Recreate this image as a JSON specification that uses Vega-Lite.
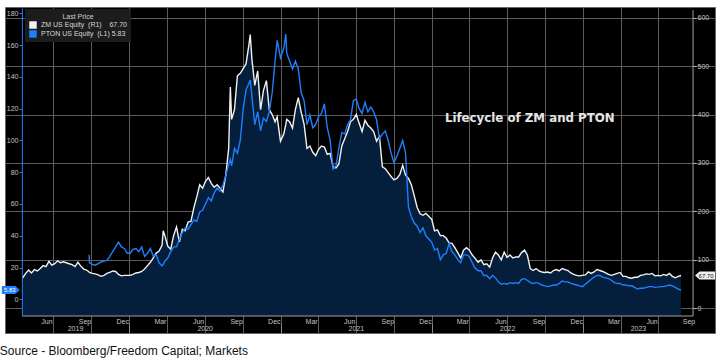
{
  "$schema": "https://vega.github.io/schema/vega-lite/v6.json",
  "width": 710,
  "height": 326,
  "autosize": {"type": "none"},
  "padding": {"left": 5, "top": 7, "right": 5, "bottom": 26},
  "background": "#ffffff",
  "title": {"text": "Source - Bloomberg/Freedom Capital; Markets", "orient": "bottom", "anchor": "start", "font": "Liberation Sans", "fontSize": 12, "fontWeight": "normal", "color": "#111111", "offset": 12, "dx": -2},
  "config": {
    "view": {"fill": "#000000", "stroke": "#666666", "strokeWidth": 1},
    "axis": {"labelFont": "Liberation Sans", "labelFontSize": 7, "labelColor": "#c4c4c4", "gridOpacity": 1}
  },
  "data": {"values": [
    {"date": "2019-04-18", "zm": 62},
    {"date": "2019-04-26", "zm": 72},
    {"date": "2019-05-03", "zm": 79},
    {"date": "2019-05-10", "zm": 73},
    {"date": "2019-05-17", "zm": 80},
    {"date": "2019-05-24", "zm": 77},
    {"date": "2019-05-31", "zm": 82},
    {"date": "2019-06-07", "zm": 88},
    {"date": "2019-06-14", "zm": 86},
    {"date": "2019-06-21", "zm": 97},
    {"date": "2019-06-28", "zm": 89},
    {"date": "2019-07-05", "zm": 92},
    {"date": "2019-07-12", "zm": 98},
    {"date": "2019-07-19", "zm": 94},
    {"date": "2019-07-26", "zm": 96},
    {"date": "2019-08-02", "zm": 94},
    {"date": "2019-08-09", "zm": 92},
    {"date": "2019-08-16", "zm": 90},
    {"date": "2019-08-23", "zm": 86},
    {"date": "2019-08-30", "zm": 95},
    {"date": "2019-09-06", "zm": 87},
    {"date": "2019-09-13", "zm": 81},
    {"date": "2019-09-20", "zm": 79},
    {"date": "2019-09-26", "zm": 75, "pton": 28},
    {"date": "2019-09-27", "zm": 74, "pton": 23},
    {"date": "2019-10-04", "zm": 72, "pton": 22},
    {"date": "2019-10-11", "zm": 71, "pton": 21.5},
    {"date": "2019-10-18", "zm": 69, "pton": 22.5},
    {"date": "2019-10-25", "zm": 66, "pton": 23.5},
    {"date": "2019-11-01", "zm": 68, "pton": 24},
    {"date": "2019-11-08", "zm": 72, "pton": 24.5},
    {"date": "2019-11-15", "zm": 74, "pton": 27},
    {"date": "2019-11-22", "zm": 77, "pton": 30},
    {"date": "2019-11-29", "zm": 76, "pton": 33},
    {"date": "2019-12-06", "zm": 70, "pton": 36},
    {"date": "2019-12-13", "zm": 67, "pton": 33},
    {"date": "2019-12-20", "zm": 68, "pton": 32},
    {"date": "2019-12-27", "zm": 68, "pton": 29},
    {"date": "2020-01-03", "zm": 68, "pton": 29},
    {"date": "2020-01-10", "zm": 70, "pton": 31.5},
    {"date": "2020-01-17", "zm": 73, "pton": 32},
    {"date": "2020-01-24", "zm": 74, "pton": 30},
    {"date": "2020-01-31", "zm": 76, "pton": 33},
    {"date": "2020-02-07", "zm": 81, "pton": 27},
    {"date": "2020-02-14", "zm": 88, "pton": 29},
    {"date": "2020-02-21", "zm": 95, "pton": 32},
    {"date": "2020-02-28", "zm": 104, "pton": 27},
    {"date": "2020-03-06", "zm": 114, "pton": 28},
    {"date": "2020-03-13", "zm": 118, "pton": 23},
    {"date": "2020-03-20", "zm": 130, "pton": 21},
    {"date": "2020-03-23", "zm": 160, "pton": 22},
    {"date": "2020-03-27", "zm": 150, "pton": 24},
    {"date": "2020-04-03", "zm": 128, "pton": 26},
    {"date": "2020-04-10", "zm": 122, "pton": 30},
    {"date": "2020-04-17", "zm": 150, "pton": 33},
    {"date": "2020-04-24", "zm": 168, "pton": 33},
    {"date": "2020-05-01", "zm": 137, "pton": 38},
    {"date": "2020-05-08", "zm": 163, "pton": 42},
    {"date": "2020-05-15", "zm": 160, "pton": 45},
    {"date": "2020-05-22", "zm": 178, "pton": 44},
    {"date": "2020-05-29", "zm": 180, "pton": 47},
    {"date": "2020-06-05", "zm": 208, "pton": 50},
    {"date": "2020-06-12", "zm": 230, "pton": 49},
    {"date": "2020-06-19", "zm": 255, "pton": 55},
    {"date": "2020-06-26", "zm": 248, "pton": 56},
    {"date": "2020-07-03", "zm": 262, "pton": 60},
    {"date": "2020-07-10", "zm": 270, "pton": 64},
    {"date": "2020-07-17", "zm": 258, "pton": 62},
    {"date": "2020-07-24", "zm": 250, "pton": 67},
    {"date": "2020-07-31", "zm": 255, "pton": 70},
    {"date": "2020-08-07", "zm": 248, "pton": 68},
    {"date": "2020-08-14", "zm": 240, "pton": 72},
    {"date": "2020-08-21", "zm": 275, "pton": 78},
    {"date": "2020-08-28", "zm": 330, "pton": 85},
    {"date": "2020-09-01", "zm": 457, "pton": 88},
    {"date": "2020-09-04", "zm": 390, "pton": 84},
    {"date": "2020-09-11", "zm": 410, "pton": 95},
    {"date": "2020-09-18", "zm": 480, "pton": 92},
    {"date": "2020-09-25", "zm": 485, "pton": 100},
    {"date": "2020-10-02", "zm": 495, "pton": 120},
    {"date": "2020-10-09", "zm": 505, "pton": 132},
    {"date": "2020-10-16", "zm": 545, "pton": 136},
    {"date": "2020-10-19", "zm": 565, "pton": 138},
    {"date": "2020-10-23", "zm": 515, "pton": 128},
    {"date": "2020-10-30", "zm": 460, "pton": 110},
    {"date": "2020-11-06", "zm": 490, "pton": 118},
    {"date": "2020-11-13", "zm": 410, "pton": 106},
    {"date": "2020-11-20", "zm": 450, "pton": 114},
    {"date": "2020-11-27", "zm": 470, "pton": 112},
    {"date": "2020-12-04", "zm": 410, "pton": 118},
    {"date": "2020-12-11", "zm": 400, "pton": 130},
    {"date": "2020-12-18", "zm": 385, "pton": 150},
    {"date": "2020-12-23", "zm": 395, "pton": 163},
    {"date": "2020-12-31", "zm": 345, "pton": 152},
    {"date": "2021-01-08", "zm": 360, "pton": 158},
    {"date": "2021-01-13", "zm": 380, "pton": 167},
    {"date": "2021-01-15", "zm": 390, "pton": 155},
    {"date": "2021-01-22", "zm": 385, "pton": 150},
    {"date": "2021-01-29", "zm": 372, "pton": 145},
    {"date": "2021-02-05", "zm": 410, "pton": 150},
    {"date": "2021-02-12", "zm": 435, "pton": 145},
    {"date": "2021-02-19", "zm": 405, "pton": 130},
    {"date": "2021-02-26", "zm": 380, "pton": 125},
    {"date": "2021-03-05", "zm": 330, "pton": 110},
    {"date": "2021-03-12", "zm": 335, "pton": 116},
    {"date": "2021-03-19", "zm": 322, "pton": 108},
    {"date": "2021-03-26", "zm": 315, "pton": 110},
    {"date": "2021-04-02", "zm": 328, "pton": 115},
    {"date": "2021-04-09", "zm": 335, "pton": 117},
    {"date": "2021-04-16", "zm": 333, "pton": 123},
    {"date": "2021-04-23", "zm": 318, "pton": 108},
    {"date": "2021-04-30", "zm": 320, "pton": 100},
    {"date": "2021-05-07", "zm": 292, "pton": 82},
    {"date": "2021-05-14", "zm": 290, "pton": 84},
    {"date": "2021-05-21", "zm": 298, "pton": 95},
    {"date": "2021-05-28", "zm": 335, "pton": 105},
    {"date": "2021-06-04", "zm": 350, "pton": 104},
    {"date": "2021-06-11", "zm": 365, "pton": 110},
    {"date": "2021-06-18", "zm": 385, "pton": 113},
    {"date": "2021-06-25", "zm": 390, "pton": 125},
    {"date": "2021-07-02", "zm": 400, "pton": 126},
    {"date": "2021-07-09", "zm": 382, "pton": 120},
    {"date": "2021-07-16", "zm": 365, "pton": 117},
    {"date": "2021-07-23", "zm": 388, "pton": 124},
    {"date": "2021-07-30", "zm": 378, "pton": 118},
    {"date": "2021-08-06", "zm": 372, "pton": 121},
    {"date": "2021-08-13", "zm": 365, "pton": 118},
    {"date": "2021-08-20", "zm": 345, "pton": 113},
    {"date": "2021-08-27", "zm": 355, "pton": 101},
    {"date": "2021-09-03", "zm": 292, "pton": 104},
    {"date": "2021-09-10", "zm": 288, "pton": 106},
    {"date": "2021-09-17", "zm": 280, "pton": 100},
    {"date": "2021-09-24", "zm": 272, "pton": 92},
    {"date": "2021-10-01", "zm": 265, "pton": 86},
    {"date": "2021-10-08", "zm": 268, "pton": 90},
    {"date": "2021-10-15", "zm": 276, "pton": 95},
    {"date": "2021-10-22", "zm": 295, "pton": 100},
    {"date": "2021-10-29", "zm": 275, "pton": 92},
    {"date": "2021-11-05", "zm": 268, "pton": 58},
    {"date": "2021-11-12", "zm": 255, "pton": 52},
    {"date": "2021-11-19", "zm": 232, "pton": 48},
    {"date": "2021-11-26", "zm": 208, "pton": 46},
    {"date": "2021-12-03", "zm": 195, "pton": 42},
    {"date": "2021-12-10", "zm": 192, "pton": 45},
    {"date": "2021-12-17", "zm": 196, "pton": 40},
    {"date": "2021-12-24", "zm": 190, "pton": 38},
    {"date": "2021-12-31", "zm": 184, "pton": 36},
    {"date": "2022-01-07", "zm": 160, "pton": 31},
    {"date": "2022-01-14", "zm": 162, "pton": 32},
    {"date": "2022-01-21", "zm": 150, "pton": 25},
    {"date": "2022-01-28", "zm": 150, "pton": 28},
    {"date": "2022-02-04", "zm": 145, "pton": 29},
    {"date": "2022-02-11", "zm": 135, "pton": 35},
    {"date": "2022-02-18", "zm": 134, "pton": 30},
    {"date": "2022-02-25", "zm": 125, "pton": 28},
    {"date": "2022-03-04", "zm": 115, "pton": 25},
    {"date": "2022-03-11", "zm": 104, "pton": 23},
    {"date": "2022-03-18", "zm": 120, "pton": 28},
    {"date": "2022-03-25", "zm": 125, "pton": 28},
    {"date": "2022-04-01", "zm": 120, "pton": 27},
    {"date": "2022-04-08", "zm": 110, "pton": 23},
    {"date": "2022-04-14", "zm": 104, "pton": 20},
    {"date": "2022-04-22", "zm": 95, "pton": 18},
    {"date": "2022-04-29", "zm": 100, "pton": 18},
    {"date": "2022-05-06", "zm": 90, "pton": 15},
    {"date": "2022-05-13", "zm": 92, "pton": 15},
    {"date": "2022-05-20", "zm": 85, "pton": 13},
    {"date": "2022-05-27", "zm": 104, "pton": 15},
    {"date": "2022-06-03", "zm": 116, "pton": 13.5},
    {"date": "2022-06-10", "zm": 110, "pton": 11},
    {"date": "2022-06-17", "zm": 100, "pton": 9.5},
    {"date": "2022-06-24", "zm": 116, "pton": 10},
    {"date": "2022-07-01", "zm": 105, "pton": 9.5},
    {"date": "2022-07-08", "zm": 110, "pton": 10.5},
    {"date": "2022-07-15", "zm": 104, "pton": 10},
    {"date": "2022-07-22", "zm": 106, "pton": 10.5},
    {"date": "2022-07-29", "zm": 106, "pton": 10},
    {"date": "2022-08-05", "zm": 115, "pton": 12.5},
    {"date": "2022-08-12", "zm": 120, "pton": 13},
    {"date": "2022-08-19", "zm": 110, "pton": 12},
    {"date": "2022-08-26", "zm": 82, "pton": 10.5},
    {"date": "2022-09-02", "zm": 78, "pton": 10},
    {"date": "2022-09-09", "zm": 82, "pton": 10.5},
    {"date": "2022-09-16", "zm": 77, "pton": 10},
    {"date": "2022-09-23", "zm": 75, "pton": 9},
    {"date": "2022-09-30", "zm": 74, "pton": 8.5},
    {"date": "2022-10-07", "zm": 75, "pton": 8},
    {"date": "2022-10-14", "zm": 73, "pton": 8.5},
    {"date": "2022-10-21", "zm": 78, "pton": 9},
    {"date": "2022-10-28", "zm": 80, "pton": 9},
    {"date": "2022-11-04", "zm": 77, "pton": 10},
    {"date": "2022-11-11", "zm": 82, "pton": 11.5},
    {"date": "2022-11-18", "zm": 80, "pton": 11},
    {"date": "2022-11-25", "zm": 78, "pton": 11},
    {"date": "2022-12-02", "zm": 73, "pton": 10},
    {"date": "2022-12-09", "zm": 70, "pton": 9.5},
    {"date": "2022-12-16", "zm": 68, "pton": 9},
    {"date": "2022-12-23", "zm": 67, "pton": 8.5},
    {"date": "2022-12-30", "zm": 68, "pton": 8},
    {"date": "2023-01-06", "zm": 69, "pton": 9.5},
    {"date": "2023-01-13", "zm": 75, "pton": 11},
    {"date": "2023-01-20", "zm": 72, "pton": 12.5},
    {"date": "2023-01-27", "zm": 75, "pton": 14},
    {"date": "2023-02-03", "zm": 80, "pton": 15},
    {"date": "2023-02-10", "zm": 78, "pton": 15},
    {"date": "2023-02-17", "zm": 76, "pton": 14},
    {"date": "2023-02-24", "zm": 73, "pton": 13.5},
    {"date": "2023-03-03", "zm": 70, "pton": 13},
    {"date": "2023-03-10", "zm": 68, "pton": 12},
    {"date": "2023-03-17", "zm": 70, "pton": 10.5},
    {"date": "2023-03-24", "zm": 72, "pton": 10},
    {"date": "2023-03-31", "zm": 74, "pton": 10},
    {"date": "2023-04-07", "zm": 66, "pton": 9},
    {"date": "2023-04-14", "zm": 66, "pton": 9},
    {"date": "2023-04-21", "zm": 63, "pton": 8.5},
    {"date": "2023-04-28", "zm": 62, "pton": 8.5},
    {"date": "2023-05-05", "zm": 64, "pton": 7.5},
    {"date": "2023-05-12", "zm": 64, "pton": 6.5},
    {"date": "2023-05-19", "zm": 68, "pton": 7},
    {"date": "2023-05-26", "zm": 69, "pton": 7},
    {"date": "2023-06-02", "zm": 71, "pton": 7.5},
    {"date": "2023-06-09", "zm": 70, "pton": 8},
    {"date": "2023-06-16", "zm": 72, "pton": 8},
    {"date": "2023-06-23", "zm": 67, "pton": 7.5},
    {"date": "2023-06-30", "zm": 68, "pton": 7.7},
    {"date": "2023-07-07", "zm": 67, "pton": 8},
    {"date": "2023-07-14", "zm": 70, "pton": 8},
    {"date": "2023-07-21", "zm": 68, "pton": 8.5},
    {"date": "2023-07-28", "zm": 72, "pton": 9},
    {"date": "2023-08-04", "zm": 66, "pton": 8.5},
    {"date": "2023-08-11", "zm": 63, "pton": 7.5},
    {"date": "2023-08-18", "zm": 66, "pton": 6.5},
    {"date": "2023-08-25", "zm": 67.7, "pton": 5.83}
  ]},
  "layer": [
    {
      "data": {"values": [{}]},
      "mark": {"type": "rule", "opacity": 0},
      "encoding": {"x": {"datum": {"year": 2020, "month": 1, "date": 1}, "type": "temporal",
        "scale": {"domain": [{"year": 2019, "month": 3, "date": 7}, {"year": 2023, "month": 11, "date": 15}]},
        "axis": {"orient": "bottom", "title": null, "labels": false, "ticks": false, "domain": false, "grid": true, "gridColor": "#5c5c5c", "gridOpacity": 1, "gridWidth": 1,
          "values": [{"year": 2019, "month": 7, "date": 1}, {"year": 2019, "month": 10, "date": 1}, {"year": 2020, "month": 1, "date": 1}, {"year": 2020, "month": 4, "date": 1}, {"year": 2020, "month": 7, "date": 1}, {"year": 2020, "month": 10, "date": 1}, {"year": 2021, "month": 1, "date": 1}, {"year": 2021, "month": 4, "date": 1}, {"year": 2021, "month": 7, "date": 1}, {"year": 2021, "month": 10, "date": 1}, {"year": 2022, "month": 1, "date": 1}, {"year": 2022, "month": 4, "date": 1}, {"year": 2022, "month": 7, "date": 1}, {"year": 2022, "month": 10, "date": 1}, {"year": 2023, "month": 1, "date": 1}, {"year": 2023, "month": 4, "date": 1}, {"year": 2023, "month": 7, "date": 1}]}}}
    },
    {
      "data": {"values": [{}]},
      "mark": {"type": "rule", "opacity": 0},
      "encoding": {"x": {"datum": {"year": 2020, "month": 1, "date": 1}, "type": "temporal",
        "scale": {"domain": [{"year": 2019, "month": 3, "date": 7}, {"year": 2023, "month": 11, "date": 15}]},
        "axis": {"orient": "bottom", "offset": -17, "title": null, "format": "%b", "ticks": false, "domain": false, "grid": false, "labelPadding": 1, "labelFlush": false, "labelOverlap": false,
          "values": [{"year": 2019, "month": 6, "date": 15}, {"year": 2019, "month": 9, "date": 15}, {"year": 2019, "month": 12, "date": 15}, {"year": 2020, "month": 3, "date": 15}, {"year": 2020, "month": 6, "date": 15}, {"year": 2020, "month": 9, "date": 15}, {"year": 2020, "month": 12, "date": 15}, {"year": 2021, "month": 3, "date": 15}, {"year": 2021, "month": 6, "date": 15}, {"year": 2021, "month": 9, "date": 15}, {"year": 2021, "month": 12, "date": 15}, {"year": 2022, "month": 3, "date": 15}, {"year": 2022, "month": 6, "date": 15}, {"year": 2022, "month": 9, "date": 15}, {"year": 2022, "month": 12, "date": 15}, {"year": 2023, "month": 3, "date": 15}, {"year": 2023, "month": 6, "date": 15}, {"year": 2023, "month": 9, "date": 12}]}}}
    },
    {
      "data": {"values": [{}]},
      "mark": {"type": "rule", "opacity": 0},
      "encoding": {"x": {"datum": {"year": 2020, "month": 1, "date": 1}, "type": "temporal",
        "scale": {"domain": [{"year": 2019, "month": 3, "date": 7}, {"year": 2023, "month": 11, "date": 15}]},
        "axis": {"orient": "bottom", "offset": -9, "title": null, "format": "%Y", "ticks": false, "domain": false, "grid": false, "labelPadding": 0, "labelFlush": false, "labelOverlap": false,
          "values": [{"year": 2019, "month": 8, "date": 23}, {"year": 2020, "month": 7, "date": 1}, {"year": 2021, "month": 7, "date": 1}, {"year": 2022, "month": 7, "date": 1}, {"year": 2023, "month": 5, "date": 13}]}}}
    },
    {
      "data": {"values": [{}]},
      "mark": {"type": "rule", "opacity": 0},
      "encoding": {"x": {"datum": {"year": 2020, "month": 1, "date": 1}, "type": "temporal",
        "scale": {"domain": [{"year": 2019, "month": 3, "date": 7}, {"year": 2023, "month": 11, "date": 15}]},
        "axis": {"orient": "bottom", "offset": -10, "title": null, "labels": false, "ticks": true, "tickSize": 10, "tickColor": "#8a8a8a", "domain": false, "grid": false,
          "values": [{"year": 2020, "month": 1, "date": 1}, {"year": 2021, "month": 1, "date": 1}, {"year": 2022, "month": 1, "date": 1}, {"year": 2023, "month": 1, "date": 1}]}}}
    },
    {
      "mark": {"type": "area", "color": "#041e3c"},
      "encoding": {
        "x": {"field": "date", "type": "temporal", "axis": null,
          "scale": {"domain": [{"year": 2019, "month": 3, "date": 7}, {"year": 2023, "month": 11, "date": 15}]}},
        "y": {"field": "zm", "type": "quantitative", "title": null,
          "scale": {"domain": [-51, 622], "nice": false, "zero": false},
          "axis": {"orient": "right", "offset": -22, "values": [0, 100, 200, 300, 400, 500, 600], "domain": false, "tickSize": 3, "tickColor": "#bdbdbd", "labelPadding": 1, "grid": true, "gridColor": "#5c5c5c", "gridOpacity": 1, "gridWidth": 1}},
        "y2": {"datum": -16}
      }
    },
    {
      "mark": {"type": "line", "strokeWidth": 1.4},
      "encoding": {
        "x": {"field": "date", "type": "temporal", "axis": null,
          "scale": {"domain": [{"year": 2019, "month": 3, "date": 7}, {"year": 2023, "month": 11, "date": 15}]}},
        "y": {"field": "zm", "type": "quantitative", "axis": null,
          "scale": {"domain": [-51, 622], "nice": false, "zero": false}},
        "color": {"datum": "ZM US Equity\u00a0\u00a0(R1)\u00a0\u00a0\u00a0\u00a067.70",
          "scale": {"domain": ["ZM US Equity\u00a0\u00a0(R1)\u00a0\u00a0\u00a0\u00a067.70", "PTON US Equity\u00a0\u00a0(L1)\u00a05.83"], "range": ["#f2f2f2", "#1e7fff"]},
          "legend": {"orient": "none", "legendX": 20, "legendY": 2, "title": "Last Price", "titleFont": "Liberation Sans", "titleFontSize": 7, "titleFontWeight": "normal", "titleColor": "#cfcfcf", "titleAnchor": "middle", "titlePadding": 1, "labelFont": "Liberation Sans", "labelFontSize": 7, "labelColor": "#d8d8d8", "symbolType": "square", "symbolSize": 12, "symbolStrokeWidth": 4, "rowPadding": 1, "clipHeight": 8, "fillColor": "#1c1c1c", "padding": 4, "labelOffset": 4}}
      }
    },
    {
      "mark": {"type": "line", "strokeWidth": 1.4},
      "encoding": {
        "x": {"field": "date", "type": "temporal", "axis": null,
          "scale": {"domain": [{"year": 2019, "month": 3, "date": 7}, {"year": 2023, "month": 11, "date": 15}]}},
        "y": {"field": "pton", "type": "quantitative", "title": null,
          "scale": {"domain": [-21.2, 184], "nice": false, "zero": false},
          "axis": {"orient": "left", "offset": -17, "values": [0, 20, 40, 60, 80, 100, 120, 140, 160, 180], "domain": false, "tickSize": 3, "tickColor": "#1e7fff", "labelPadding": 1, "grid": false}},
        "color": {"datum": "PTON US Equity\u00a0\u00a0(L1)\u00a05.83"}
      }
    },
    {
      "data": {"values": [{}]},
      "mark": {"type": "rule", "color": "#1e7fff", "strokeWidth": 1},
      "encoding": {
        "x": {"datum": {"year": 2019, "month": 4, "date": 18}, "type": "temporal", "axis": null, "scale": {"domain": [{"year": 2019, "month": 3, "date": 7}, {"year": 2023, "month": 11, "date": 15}]}},
        "y": {"datum": -10.5, "type": "quantitative", "axis": null, "scale": {"domain": [-21.2, 184], "nice": false, "zero": false}},
        "y2": {"datum": 183}
      }
    },
    {
      "data": {"values": [{}]},
      "mark": {"type": "rule", "color": "#a0a0a0", "strokeWidth": 1},
      "encoding": {
        "x": {"datum": {"year": 2023, "month": 9, "date": 23}, "type": "temporal", "axis": null, "scale": {"domain": [{"year": 2019, "month": 3, "date": 7}, {"year": 2023, "month": 11, "date": 15}]}},
        "y": {"datum": -10.5, "type": "quantitative", "axis": null, "scale": {"domain": [-21.2, 184], "nice": false, "zero": false}},
        "y2": {"datum": 182}
      }
    },
    {
      "data": {"values": [{}]},
      "mark": {"type": "rule", "color": "#a0a0a0", "strokeWidth": 1},
      "encoding": {
        "x": {"datum": {"year": 2019, "month": 4, "date": 18}, "type": "temporal", "axis": null, "scale": {"domain": [{"year": 2019, "month": 3, "date": 7}, {"year": 2023, "month": 11, "date": 15}]}},
        "x2": {"datum": {"year": 2023, "month": 9, "date": 23}},
        "y": {"datum": -10.5, "type": "quantitative", "axis": null, "scale": {"domain": [-21.2, 184], "nice": false, "zero": false}}
      }
    },
    {
      "data": {"values": [{}]},
      "mark": {"type": "point", "shape": "M-1,0L-0.55,-0.4L1,-0.4L1,0.4L-0.55,0.4Z", "size": 400, "filled": true, "color": "#f0f0f0", "opacity": 1},
      "encoding": {
        "x": {"datum": {"year": 2023, "month": 10, "date": 22}, "type": "temporal", "axis": null, "scale": {"domain": [{"year": 2019, "month": 3, "date": 7}, {"year": 2023, "month": 11, "date": 15}]}},
        "y": {"datum": 67.7, "type": "quantitative", "axis": null, "scale": {"domain": [-51, 622], "nice": false, "zero": false}}
      }
    },
    {
      "data": {"values": [{}]},
      "mark": {"type": "text", "text": "67.70", "font": "Liberation Sans", "fontSize": 6, "color": "#111111", "align": "center", "baseline": "middle", "dx": 1},
      "encoding": {
        "x": {"datum": {"year": 2023, "month": 10, "date": 22}, "type": "temporal", "axis": null, "scale": {"domain": [{"year": 2019, "month": 3, "date": 7}, {"year": 2023, "month": 11, "date": 15}]}},
        "y": {"datum": 67.7, "type": "quantitative", "axis": null, "scale": {"domain": [-51, 622], "nice": false, "zero": false}}
      }
    },
    {
      "data": {"values": [{}]},
      "mark": {"type": "text", "text": "Lifecycle of ZM and PTON", "font": "DejaVu Sans", "fontWeight": "bold", "fontSize": 11.8, "color": "#e6e6e6", "align": "left", "baseline": "middle"},
      "encoding": {
        "x": {"datum": {"year": 2022, "month": 2, "date": 1}, "type": "temporal", "axis": null, "scale": {"domain": [{"year": 2019, "month": 3, "date": 7}, {"year": 2023, "month": 11, "date": 15}]}},
        "y": {"datum": 393, "type": "quantitative", "axis": null, "scale": {"domain": [-51, 622], "nice": false, "zero": false}}
      }
    },
    {
      "data": {"values": [{}]},
      "mark": {"type": "point", "shape": "M-1,-0.45L0.5,-0.45L1,0L0.5,0.45L-1,0.45Z", "size": 324, "filled": true, "color": "#1e7fff", "opacity": 1},
      "encoding": {
        "x": {"datum": {"year": 2019, "month": 3, "date": 21}, "type": "temporal", "axis": null, "scale": {"domain": [{"year": 2019, "month": 3, "date": 7}, {"year": 2023, "month": 11, "date": 15}]}},
        "y": {"datum": 5.83, "type": "quantitative", "axis": null, "scale": {"domain": [-21.2, 184], "nice": false, "zero": false}}
      }
    },
    {
      "data": {"values": [{}]},
      "mark": {"type": "text", "text": "5.83", "font": "Liberation Sans", "fontSize": 6, "color": "#ffffff", "align": "center", "baseline": "middle", "dx": -1},
      "encoding": {
        "x": {"datum": {"year": 2019, "month": 3, "date": 21}, "type": "temporal", "axis": null, "scale": {"domain": [{"year": 2019, "month": 3, "date": 7}, {"year": 2023, "month": 11, "date": 15}]}},
        "y": {"datum": 5.83, "type": "quantitative", "axis": null, "scale": {"domain": [-21.2, 184], "nice": false, "zero": false}}
      }
    }
  ],
  "resolve": {"scale": {"y": "independent"}, "axis": {"x": "independent", "y": "independent"}}
}
